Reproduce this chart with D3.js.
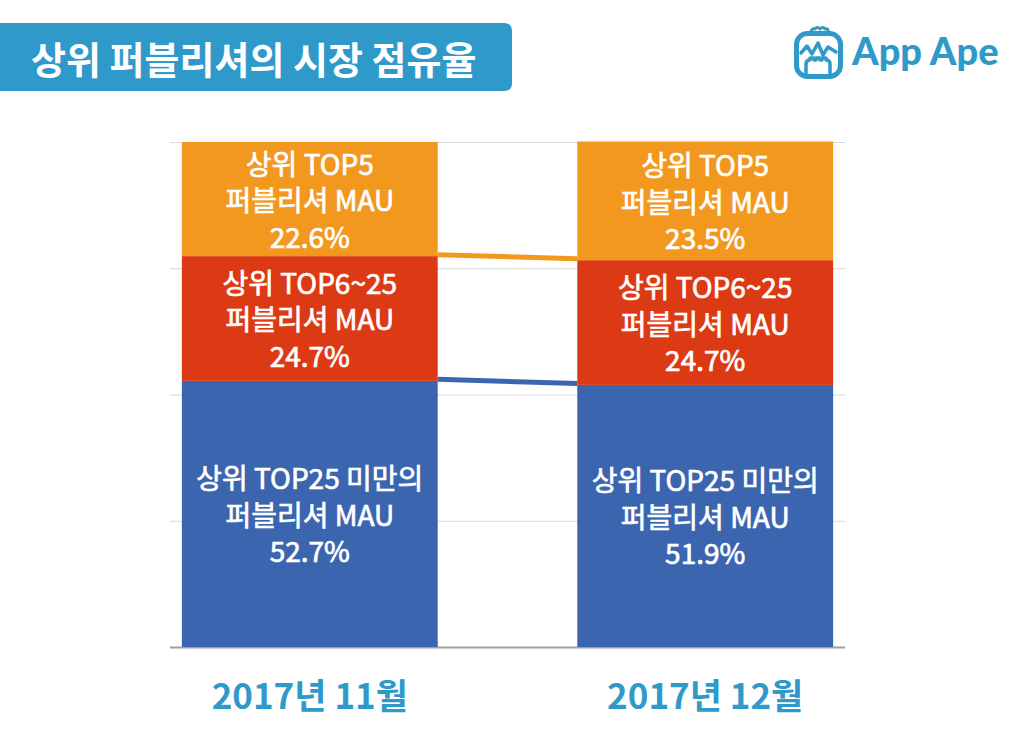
<!DOCTYPE html>
<html>
<head>
<meta charset="utf-8">
<script src="https://cdn.jsdelivr.net/npm/d3@7"></script>
<style>
  html, body { margin: 0; padding: 0; background: #fff; }
  svg { display: block; font-family: "Noto Sans CJK KR", "Noto Sans", sans-serif; }
</style>
</head>
<body>
<div id="chart"></div>
<script>
const categories = ["2017년 11월", "2017년 12월"];
const top5 = [22.6, 23.5];
const top6to25 = [24.7, 24.7];
const under25 = [52.7, 51.9];
const seriesKeys = ["under25", "top6to25", "top5"];
const seriesLabels = {
    top5: ["상위 TOP5", "퍼블리셔 MAU"],
    top6to25: ["상위 TOP6~25", "퍼블리셔 MAU"],
    under25: ["상위 TOP25 미만의", "퍼블리셔 MAU"]
};
const yTicks = [0, 25, 50, 75, 100];
const titleText = "상위 퍼블리셔의 시장 점유율";

const CBLUE = "#3C65AF";
const CRED = "#DC3A14";
const CORANGE = "#F2981F";
const CBRAND = "#2F9ACA";

const width = 1024;
const height = 735;

const rows = categories.map((c, i) => ({
    cat: c, top5: top5[i], top6to25: top6to25[i], under25: under25[i]
}));

const svg = d3.select("#chart")
    .append("svg")
    .attr("width", width)
    .attr("height", height)
    .attr("viewBox", [0, 0, width, height]);

// scales
const x = d3.scaleBand()
    .domain(categories)
    .range([170, 845])
    .paddingInner(0.353)
    .paddingOuter(0.03);
const y = d3.scaleLinear().domain([0, 100]).range([647, 142]);
const color = d3.scaleOrdinal().domain(seriesKeys).range([CBLUE, CRED, CORANGE]);

// 타이틀 박스
svg.append("path")
    .attr("d", "M0,23H504Q512,23 512,31V83Q512,91 504,91H0Z")
    .attr("fill", CBRAND);
svg.append("text")
    .attr("x", 31)
    .attr("y", 57)
    .attr("dominant-baseline", "central")
    .attr("fill", "#fff")
    .attr("font-size", 38)
    .attr("font-weight", 700)
    .text(titleText);

// logo
const logo = svg.append("g").attr("fill", "none").attr("stroke", CBRAND)
    .attr("stroke-linejoin", "round").attr("stroke-linecap", "round");
logo.append("rect")
    .attr("x", 796.5).attr("y", 33.5).attr("width", 44).attr("height", 43)
    .attr("rx", 11).attr("stroke-width", 5);
logo.append("path")
    .attr("d", "M811,33Q811,28 815,29Q817,26 820,29Q823,26 825,29Q829,28 828,33")
    .attr("stroke-width", 3);
logo.append("path")
    .attr("d", "M801,53L807,46L812,54L818,43L823,55L828,47L836,52")
    .attr("stroke-width", 3.5);
logo.append("path")
    .attr("d", "M806,75V64Q806,60 810,60V58H814V60H816V58H820V60H822V58H826V60Q830,60 830,64V75")
    .attr("stroke-width", 3.5);
svg.append("text")
    .attr("x", 852)
    .attr("y", 65)
    .attr("fill", CBRAND)
    .attr("font-family", "Lato, Roboto, sans-serif")
    .attr("font-size", 38)
    .attr("font-weight", 900)
    .text("App Ape");

// grid
svg.append("g")
    .selectAll("line")
    .data(yTicks)
    .join("line")
    .attr("x1", 170)
    .attr("x2", 845)
    .attr("y1", d => y(d) + 0.5)
    .attr("y2", d => y(d) + 0.5)
    .attr("stroke", d => d === 0 ? "#A0A0A0" : "#D9D9D9")
    .attr("stroke-width", d => d === 0 ? 2 : 1.2);

// stack
const stacked = d3.stack().keys(seriesKeys)(rows);

// series lines between bars
svg.append("g")
    .selectAll("line")
    .data(stacked.filter(s => s.key !== "top5"))
    .join("line")
    .attr("x1", x(categories[0]) + x.bandwidth())
    .attr("x2", x(categories[1]))
    .attr("y1", s => y(s[0][1]) - 1.5)
    .attr("y2", s => y(s[1][1]) - 1.5)
    .attr("stroke", s => s.key === "under25" ? CBLUE : CORANGE)
    .attr("stroke-width", 5);

const layer = svg.append("g")
    .selectAll("g")
    .data(stacked)
    .join("g")
    .attr("fill", s => color(s.key));

layer.selectAll("rect")
    .data(s => s.map(d => Object.assign(d, { key: s.key })))
    .join("rect")
    .attr("x", d => x(d.data.cat))
    .attr("width", x.bandwidth())
    .attr("y", d => y(d[1]))
    .attr("height", d => y(d[0]) - y(d[1]));

// 막대 안의 라벨 (중간 굵기 흉내: 얇은 흰색 stroke)
const lineH = 36.5;
const labels = layer.selectAll("text")
    .data(s => s)
    .join("text")
    .attr("text-anchor", "middle")
    .attr("fill", "#fff")
    .attr("stroke", "#fff")
    .attr("stroke-width", 0.7)
    .attr("font-size", 28)
    .attr("font-weight", 400)
    .attr("transform", d => `translate(${x(d.data.cat) + x.bandwidth() / 2},${(y(d[0]) + y(d[1])) / 2})`);

labels.selectAll("tspan")
    .data(d => seriesLabels[d.key].concat([d3.format(".1f")(d.data[d.key]) + "%"]))
    .join("tspan")
    .attr("x", 0)
    .attr("y", (t, i) => (i - 1) * lineH)
    .attr("dominant-baseline", "central")
    .text(t => t);

// category labels
svg.append("g")
    .selectAll("text")
    .data(categories)
    .join("text")
    .attr("x", d => x(d) + x.bandwidth() / 2)
    .attr("y", 693)
    .attr("text-anchor", "middle")
    .attr("dominant-baseline", "central")
    .attr("fill", CBRAND)
    .attr("font-size", 35)
    .attr("font-weight", 700)
    .text(d => d);
</script>
</body>
</html>
